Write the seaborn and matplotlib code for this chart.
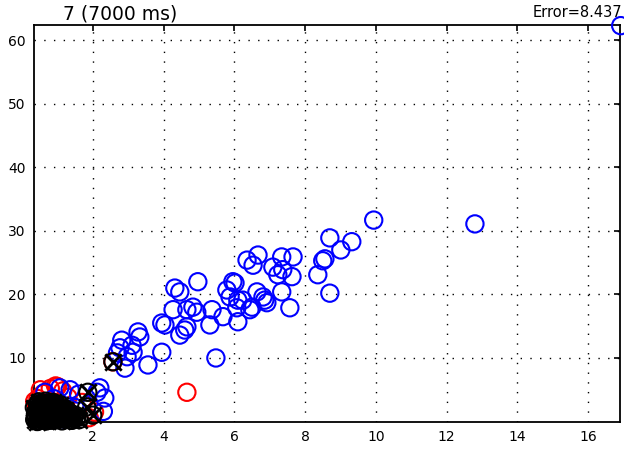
import matplotlib
matplotlib.use("Agg")
import matplotlib.pyplot as plt
import seaborn as sns
import pandas as pd

# Blue series: spread of points along the main trend
blue_x = [16.92, 12.80, 9.94, 9.32, 9.01, 8.70, 8.56, 8.50, 8.36, 8.70,
          7.66, 7.34, 6.67, 6.36, 6.53, 7.09, 7.23, 7.63, 7.37, 7.34,
          7.57, 6.81, 6.64, 6.86, 6.50, 6.44, 6.24, 6.10, 6.02, 5.88,
          6.07, 6.10, 6.92, 4.97, 4.32, 4.46, 5.96, 5.79, 4.27, 4.83,
          4.94, 4.66, 5.37, 5.68, 3.95, 4.04, 4.66, 4.60, 4.46, 5.31,
          3.28, 3.33, 2.82, 3.11, 3.95, 2.77, 3.14, 3.56, 5.48, 2.97,
          2.91, 2.20, 2.12, 1.36, 2.34, 1.07, 0.65, 0.90, 1.60, 1.50,
          2.30, 1.20, 0.55, 2.70]
blue_y = [62.3, 31.1, 31.7, 28.3, 27.0, 28.9, 25.6, 25.3, 23.1, 20.2,
          25.9, 25.9, 26.2, 25.4, 24.6, 24.3, 23.1, 22.8, 23.9, 20.4,
          17.9, 19.6, 20.4, 19.1, 18.0, 17.6, 19.1, 19.1, 21.8, 19.6,
          17.9, 15.7, 18.7, 22.0, 21.0, 20.4, 22.0, 20.7, 17.6, 18.0,
          17.2, 17.6, 17.6, 16.5, 15.5, 15.2, 14.9, 14.4, 13.6, 15.2,
          14.1, 13.3, 12.8, 12.0, 10.9, 11.6, 10.9, 8.9, 10.0, 10.2,
          8.4, 5.3, 4.6, 5.0, 3.7, 5.3, 4.6, 3.6, 4.3, 2.2,
          1.6, 0.4, 1.5, 10.8]

# Red series: mostly clustered near the origin
red_x = [0.45, 0.60, 0.80, 1.00, 1.15, 0.40, 1.70, 2.05, 1.90, 2.57,
         4.66, 1.30, 0.70, 0.52, 0.95, 0.36]
red_y = [3.6, 4.4, 5.2, 5.5, 4.8, 2.5, 3.0, 1.5, 0.6, 9.4,
         4.6, 3.8, 2.0, 5.0, 5.6, 3.2]

# Black series: dense cluster near the origin plus a few outliers
black_x = [0.36, 0.41, 0.47, 0.53, 0.61, 0.68, 0.74, 0.83, 0.91, 0.97,
           1.06, 1.13, 1.22, 1.31, 1.42, 0.38, 0.49, 0.57, 0.66, 0.72,
           0.81, 0.89, 1.01, 1.09, 1.18, 1.27, 0.44, 0.55, 0.63, 0.78,
           0.86, 0.94, 1.04, 0.59, 0.76, 1.15, 0.35, 0.70, 1.50, 1.62,
           0.39, 0.46, 0.52, 0.58, 0.64, 0.71, 0.79, 0.87, 0.95, 1.03,
           1.11, 1.20, 1.34, 1.46, 0.43, 0.51, 0.62, 0.69, 0.84, 0.99,
           1.25, 1.38, 1.55, 0.48, 0.67, 0.88, 1.08,
           1.86, 1.83, 2.00, 2.57]
black_y = [0.3, 1.6, 0.1, 2.4, 0.9, 2.8, 0.2, 1.9, 0.5, 2.7,
           1.2, 0.1, 1.8, 0.6, 0.2, 1.1, 1.4, 0.4, 1.7, 2.2,
           1.0, 2.5, 0.3, 2.1, 0.9, 1.3, 2.6, 2.9, 0.7, 1.5,
           0.2, 1.6, 2.0, 1.2, 2.6, 1.9, 2.2, 0.8, 1.0, 0.3,
           0.7, 2.0, 1.0, 1.9, 0.4, 1.2, 2.9, 0.6, 1.3, 1.0,
           0.6, 0.4, 1.1, 0.7, 0.0, 0.5, 2.3, 0.1, 2.3, 1.9,
           1.5, 0.2, 0.6, 3.1, 3.2, 3.0, 2.6,
           4.6, 2.3, 1.0, 9.4]

x_ticks = [2, 4, 6, 8, 10, 12, 14, 16]
y_ticks = [10, 20, 30, 40, 50, 60]

frames = [
    pd.DataFrame({"x": red_x, "y": red_y, "grp": "red"}),
    pd.DataFrame({"x": blue_x, "y": blue_y, "grp": "blue"}),
    pd.DataFrame({"x": black_x, "y": black_y, "grp": "black"}),
]

sns.set_style("white")
plt.rcParams["font.family"] = ["DejaVu Sans"]
plt.rcParams["text.color"] = "black"

fig = plt.figure(figsize=(6.24, 4.5), dpi=100)
ax = fig.add_axes([0.0545, 0.0633, 0.9391, 0.8811])

msize = 155
for df in frames:
    col = df["grp"].iloc[0]
    sns.scatterplot(data=df, x="x", y="y", ax=ax, marker="o", s=msize,
                    color=col, facecolor="none", edgecolor=col,
                    linewidth=1.5, clip_on=False, legend=False, zorder=3)
    if col == "black":
        sns.scatterplot(data=df, x="x", y="y", ax=ax, marker="x", s=msize * 0.9,
                        color="black", linewidth=2.0, clip_on=False,
                        legend=False, zorder=4)

ax.set_xlim(0.34, 16.9)
ax.set_ylim(0.0, 62.4)
ax.set_xticks(x_ticks)
ax.set_yticks(y_ticks)
ax.set_xticklabels([str(v) for v in x_ticks])
ax.set_yticklabels([str(v) for v in y_ticks])
ax.set_xlabel("")
ax.set_ylabel("")

ax.grid(True, color="black", linestyle=(0, (1, 6)), linewidth=1.0)
ax.set_axisbelow(True)
for sp in ax.spines.values():
    sp.set_color("black")
    sp.set_linewidth(1.3)
    sp.set_visible(True)
ax.tick_params(direction="in", length=4, width=1.2, top=True, right=True,
               labelsize=10, pad=6, colors="black")

fig.text(0.101, 0.956, "7 (7000 ms)", fontsize=13.5, ha="left", va="baseline",
         color="black")
fig.text(0.997, 0.962, "Error=8.437", fontsize=10.5, ha="right", va="baseline",
         color="black")

fig.savefig("out.png", dpi=100, facecolor="white")
